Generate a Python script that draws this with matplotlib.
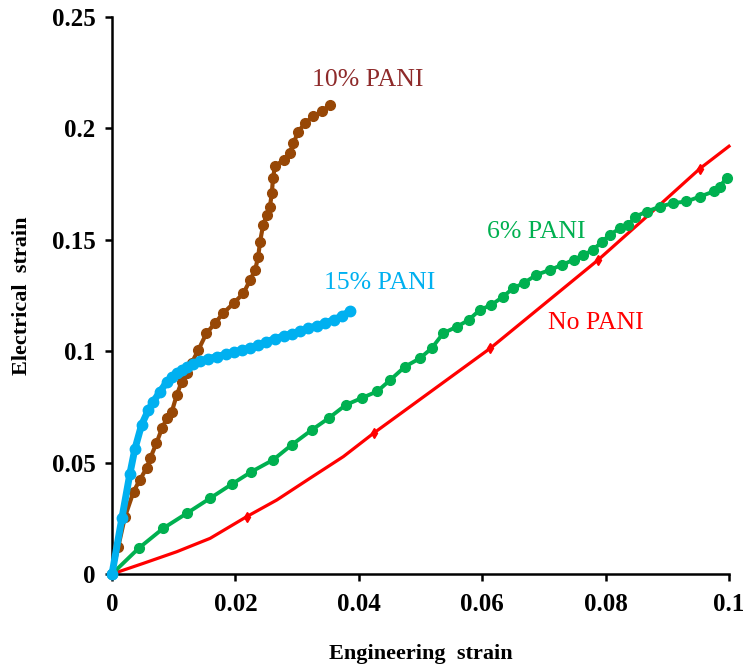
import matplotlib
matplotlib.use("Agg")
import matplotlib.pyplot as plt

# ---- data ----
red_x = [0, 0.0051, 0.0105, 0.0159, 0.0218, 0.0267, 0.0321, 0.0375, 0.0424, 0.0613, 0.0788,
         0.0861, 0.0953, 0.1]
red_y = [0, 0.0048, 0.0100, 0.0160, 0.0257, 0.0332, 0.0430, 0.0527, 0.0632, 0.1013, 0.141,
         0.159, 0.182, 0.192]
red_mark_idx = [4, 8, 9, 10, 12]

green_x = [0, 0.0043, 0.0083, 0.0121, 0.0159, 0.0194, 0.0226, 0.0261, 0.0291, 0.0324, 0.0351,
           0.0379, 0.0405, 0.0430, 0.0451, 0.0475, 0.0499, 0.0518, 0.0537, 0.0559, 0.0578,
           0.0596, 0.0615, 0.0634, 0.0650, 0.0667, 0.0688, 0.0710, 0.0729, 0.0748, 0.0764,
           0.0780, 0.0794, 0.0807, 0.0823, 0.0837, 0.0848, 0.0867, 0.0888, 0.0910, 0.0931,
           0.0953, 0.0975, 0.0985, 0.0996]
green_y = [0, 0.0115, 0.0205, 0.0272, 0.0340, 0.0403, 0.0459, 0.0512, 0.0579, 0.0647, 0.0699,
           0.0759, 0.0790, 0.0820, 0.0871, 0.0931, 0.0968, 0.1013, 0.1081, 0.1110, 0.1140,
           0.1185, 0.1208, 0.1245, 0.1283, 0.1305, 0.1343, 0.1365, 0.1387, 0.1410, 0.1432,
           0.1455, 0.1492, 0.1522, 0.1552, 0.1567, 0.1604, 0.1627, 0.1649, 0.1665, 0.1672,
           0.1694, 0.1717, 0.1739, 0.1777]

brown_x = [0, 0.0010, 0.0021, 0.0035, 0.0045, 0.0056, 0.0062, 0.0072, 0.0081, 0.0089, 0.0097,
           0.0105, 0.0113, 0.0121, 0.0129, 0.0140, 0.0153, 0.0167, 0.0180, 0.0197, 0.0213,
           0.0224, 0.0232, 0.0237, 0.0240, 0.0245, 0.0251, 0.0256, 0.0259, 0.0261, 0.0264,
           0.0278, 0.0288, 0.0294, 0.0302, 0.0313, 0.0326, 0.0340, 0.0353]
brown_y = [0, 0.012, 0.0257, 0.0370, 0.0422, 0.0475, 0.0520, 0.0587, 0.0654, 0.0699, 0.0729,
           0.0804, 0.0863, 0.0901, 0.0946, 0.1006, 0.1080, 0.1126, 0.1170, 0.1215, 0.1260,
           0.1320, 0.1365, 0.1425, 0.1492, 0.1567, 0.1612, 0.1649, 0.1709, 0.1777, 0.1829,
           0.1859, 0.1889, 0.1934, 0.1986, 0.2024, 0.2054, 0.2076, 0.2106]

blue_x = [0, 0.0016, 0.0029, 0.0037, 0.0048, 0.0059, 0.0067, 0.0078, 0.0089, 0.0097, 0.0105,
          0.0113, 0.0121, 0.0132, 0.0143, 0.0156, 0.0170, 0.0184, 0.0197, 0.0210, 0.0224,
          0.0237, 0.0250, 0.0264, 0.0278, 0.0291, 0.0305, 0.0318, 0.0332, 0.0345, 0.0359,
          0.0372, 0.0386]
blue_y = [0, 0.0250, 0.0450, 0.0560, 0.0670, 0.0736, 0.0774, 0.0819, 0.0863, 0.0884, 0.0900,
          0.0916, 0.0930, 0.0944, 0.0955, 0.0966, 0.0976, 0.0986, 0.0996, 0.1005, 0.1015,
          0.1028, 0.1042, 0.1056, 0.1068, 0.1079, 0.1090, 0.1102, 0.1115, 0.1127, 0.1140,
          0.1158, 0.1180]

x_ticks = [0, 0.02, 0.04, 0.06, 0.08, 0.1]
x_tick_labels = ["0", "0.02", "0.04", "0.06", "0.08", "0.1"]
y_ticks = [0, 0.05, 0.1, 0.15, 0.2, 0.25]
y_tick_labels = ["0", "0.05", "0.1", "0.15", "0.2", "0.25"]

labels = ["10% PANI", "15% PANI", "6% PANI", "No PANI"]
label_pos = [(0.0415, 0.2218), (0.0434, 0.1307), (0.0688, 0.1537), (0.0784, 0.1126)]
label_colors = ["#8E2A2A", "#00B0F0", "#00B050", "#FF0000"]

# ---- plot ----
plt.rcParams['font.family'] = ['Liberation Serif', 'DejaVu Serif']
fig = plt.figure(figsize=(7.44, 6.66), dpi=100)
ax = fig.add_axes([112/744, (666-574)/666, 617/744, 557/666])

ax.plot(red_x, red_y, color="#FF0000", lw=2.3, marker="d", ms=5,
        markevery=red_mark_idx, zorder=2)
ax.plot(green_x, green_y, color="#00B050", lw=2.8, marker="o", ms=7, zorder=3)
ax.plot(brown_x, brown_y, color="#974706", lw=3.0, marker="o", ms=7, zorder=4)
ax.plot(blue_x, blue_y, color="#00B0F0", lw=5, marker="o", ms=7.5, zorder=5)

for t, (lx, ly), c in zip(labels, label_pos, label_colors):
    ax.text(lx, ly, t, color=c, fontsize=18.5, ha="center", va="center")

ax.set_xlim(0, 0.1)
ax.set_ylim(0, 0.25)
ax.set_xticks(x_ticks)
ax.set_xticklabels(x_tick_labels, fontsize=18, fontweight="bold")
ax.set_yticks(y_ticks)
ax.set_yticklabels(y_tick_labels, fontsize=18, fontweight="bold")
ax.tick_params(direction="out", length=5, width=1.8)
ax.tick_params(axis="x", pad=9)
ax.tick_params(axis="y", pad=7)
for s in ["top", "right"]:
    ax.spines[s].set_visible(False)
for s in ["left", "bottom"]:
    ax.spines[s].set_linewidth(1.8)
ax.set_xlabel("Engineering  strain", fontsize=16, fontweight="bold", labelpad=20)
ax.set_ylabel("Electrical  strain", fontsize=16, fontweight="bold", labelpad=14)
for ln in ax.lines:
    ln.set_clip_on(False)

fig.savefig("out.png", dpi=100)
